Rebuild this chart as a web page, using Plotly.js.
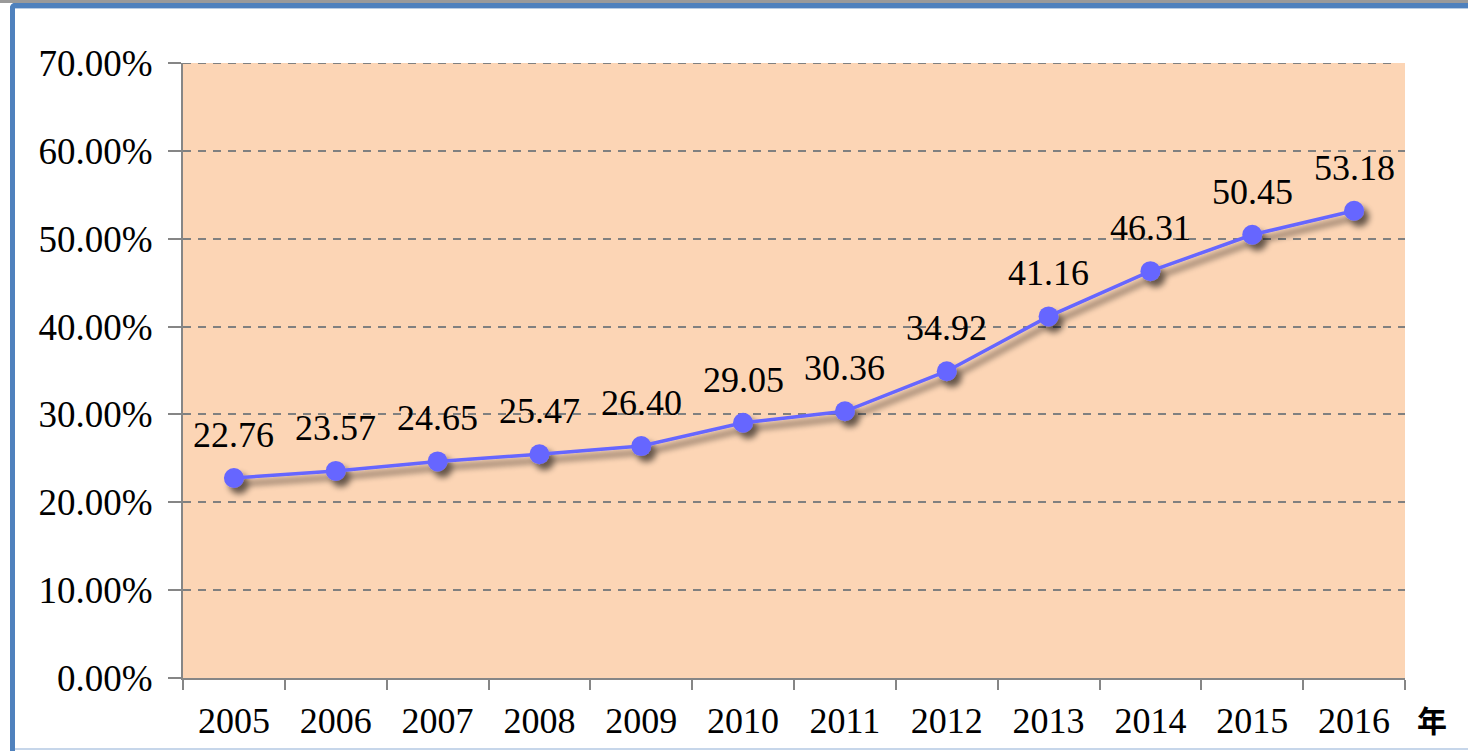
<!DOCTYPE html>
<html><head><meta charset="utf-8">
<script src="https://cdn.plot.ly/plotly-3.0.1.min.js"></script>
<style>
html,body{margin:0;padding:0;background:#fff;}
#wrap{position:relative;width:1468px;height:751px;overflow:hidden;}
#chart{position:absolute;left:0;top:0;width:1468px;height:751px;}
.fr{position:absolute;pointer-events:none;}
</style></head>
<body>
<div id="wrap">
<div id="chart"></div>
<div class="fr" style="left:0;top:0;width:1468px;height:3px;background:#9a9a9a;"></div>
<div class="fr" style="left:10px;top:3px;width:1458px;height:5px;background:#4F81BD;border-top-left-radius:5px;"></div>
<div class="fr" style="left:10px;top:3px;width:5px;height:748px;background:#4F81BD;border-top-left-radius:5px;"></div>
<div class="fr" style="left:15px;top:8px;width:1453px;height:1px;background:#B8CCE4;"></div>
<div class="fr" style="left:15px;top:748px;width:1453px;height:2px;background:#C6D6EA;"></div>
</div>
<script>
const years = ["2005","2006","2007","2008","2009","2010","2011","2012","2013","2014","2015","2016"];
const values = [22.76, 23.57, 24.65, 25.47, 26.40, 29.05, 30.36, 34.92, 41.16, 46.31, 50.45, 53.18];
const labels = ["22.76","23.57","24.65","25.47","26.40","29.05","30.36","34.92","41.16","46.31","50.45","53.18"];
const yTicks = [0,10,20,30,40,50,60,70];
const unitLabel = "年";

const serif = "Liberation Serif";
const trace = {
  x: years, y: values, type: "scatter", mode: "lines+markers",
  line: {color: "#6666FF", width: 3.5},
  marker: {color: "#6666FF", size: 20},
  hoverinfo: "skip"
};
const ann = years.map((yr, i) => ({
  x: i, y: values[i], xref: "x", yref: "y", text: labels[i], showarrow: false,
  yshift: 43, font: {family: serif, size: 36, color: "#000"}
}));
ann.push({xref: "paper", yref: "paper", x: 1.022, y: -0.066, text: unitLabel, showarrow: false,
  xanchor: "center", yanchor: "middle",
  font: {family: "Noto Sans CJK SC", size: 30, color: "#000", weight: 700}});
const yTop = Math.max(...yTicks);
const layout = {
  width: 1468, height: 751,
  margin: {l: 183, r: 63, t: 63, b: 73},
  paper_bgcolor: "rgba(0,0,0,0)",
  plot_bgcolor: "#FCD5B5",
  showlegend: false,
  xaxis: {
    type: "category", tickson: "boundaries", showgrid: false,
    showline: true, linecolor: "#868686", linewidth: 2,
    ticks: "outside", ticklen: 10, tickwidth: 2, tickcolor: "#868686",
    ticklabelstandoff: 10,
    tickfont: {family: serif, size: 36, color: "#000"},
    range: [-0.5, 11.5], fixedrange: true
  },
  yaxis: {
    range: [0, yTop], tickvals: yTicks, ticktext: yTicks.map(v => v.toFixed(2) + "%"),
    showgrid: true, gridcolor: "#808080", gridwidth: 2, griddash: "8px,7px",
    zeroline: false, showline: true, linecolor: "#868686", linewidth: 2,
    ticks: "outside", ticklen: 13, tickwidth: 2, tickcolor: "#868686",
    ticklabelstandoff: 8,
    tickfont: {family: serif, size: 37, color: "#000"},
    fixedrange: true
  },
  shapes: [{type: "line", xref: "paper", yref: "y", x0: 0, x1: 0.992, y0: yTop, y1: yTop,
    line: {color: "#808080", width: 2, dash: "8px,7px"}, layer: "above"}],
  annotations: ann
};
Plotly.newPlot("chart", [trace], layout, {displayModeBar: false}).then(gd => {
  const svg = gd.querySelector("svg.main-svg");
  const ns = "http://www.w3.org/2000/svg";
  let defs = svg.querySelector("defs");
  if (!defs) { defs = document.createElementNS(ns, "defs"); svg.insertBefore(defs, svg.firstChild); }
  const f = document.createElementNS(ns, "filter");
  f.setAttribute("id", "shd"); f.setAttribute("x", "-20%"); f.setAttribute("y", "-20%");
  f.setAttribute("width", "140%"); f.setAttribute("height", "140%");
  f.innerHTML = '<feGaussianBlur in="SourceAlpha" stdDeviation="3"/><feOffset dx="5" dy="6" result="o"/>' +
    '<feComponentTransfer><feFuncA type="linear" slope="0.6"/></feComponentTransfer>' +
    '<feMerge><feMergeNode/><feMergeNode in="SourceGraphic"/></feMerge>';
  defs.appendChild(f);
  gd.querySelectorAll(".scatterlayer .trace").forEach(t => t.setAttribute("filter", "url(#shd)"));
});
</script>
</body></html>
